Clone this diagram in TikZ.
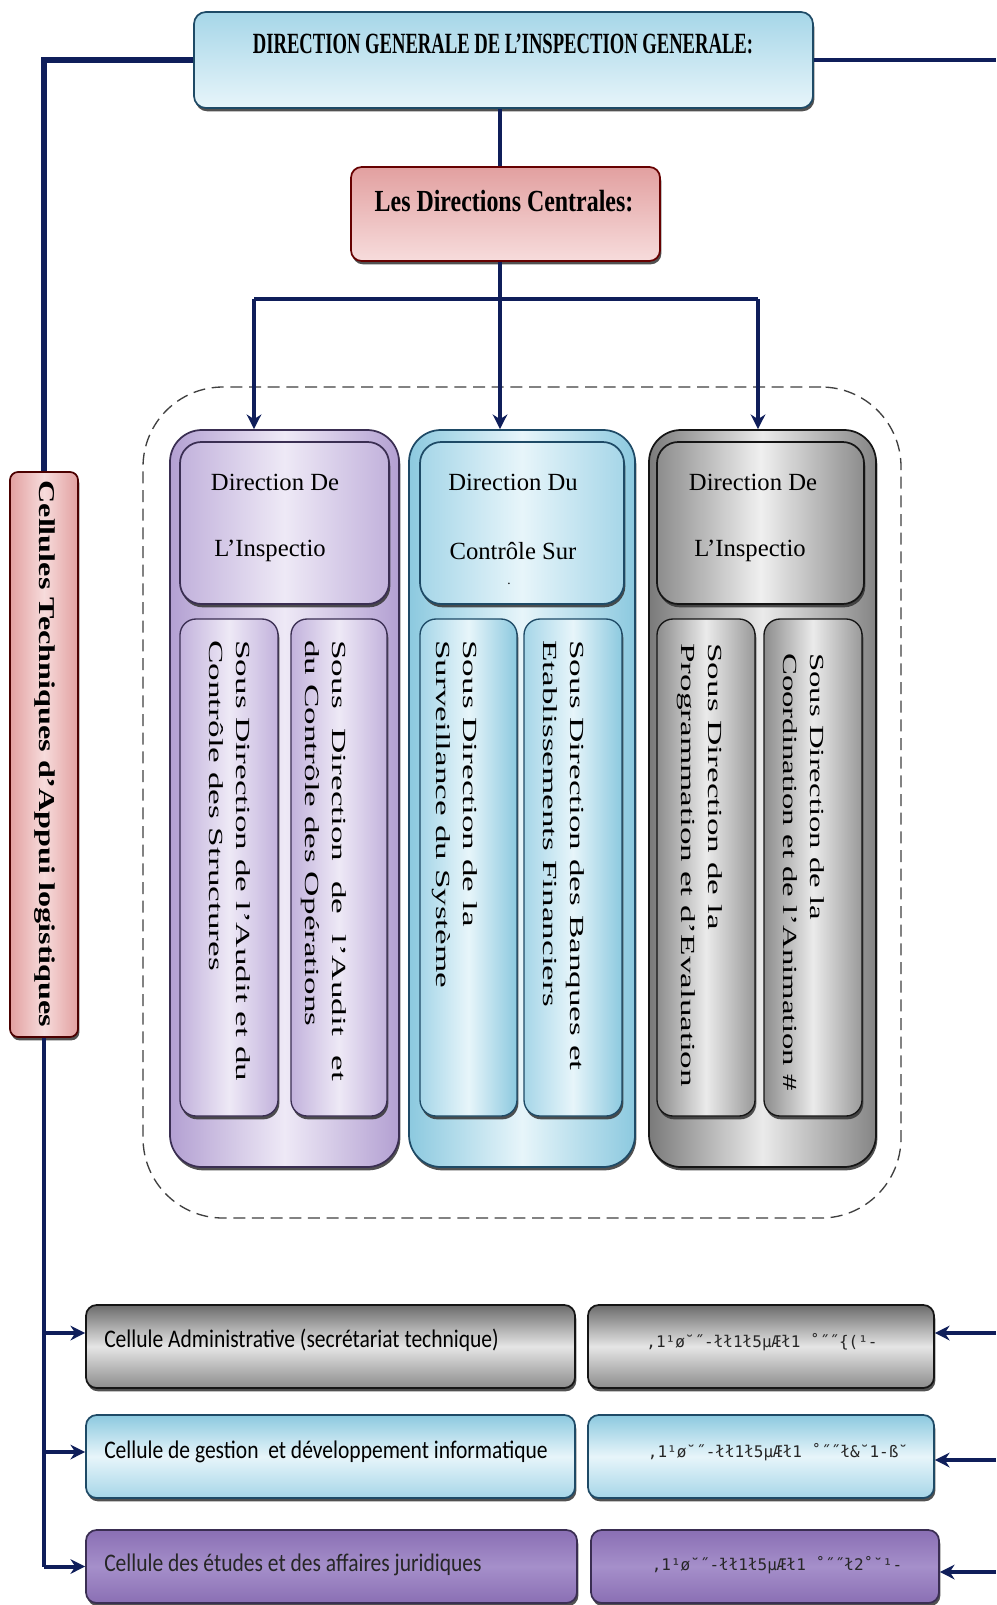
\documentclass[tikz,border=0pt]{standalone}
\usepackage{fontspec}
\setmainfont{Liberation Serif}
\newfontfamily\calib{Carlito}
\newfontfamily\monof{DejaVu Sans Mono}
\usetikzlibrary{arrows.meta,fit,shadows}
\definecolor{navy}{HTML}{0F1E5A}
\definecolor{pbord}{HTML}{3A2E52}
\definecolor{bbord}{HTML}{1E4A66}
\definecolor{gbord}{HTML}{151515}
\definecolor{lavA}{HTML}{B3A0D2}
\definecolor{lavB}{HTML}{EEE9F6}
\definecolor{lavC}{HTML}{C2B2DC}
\definecolor{bluA}{HTML}{8CC9DF}
\definecolor{bluB}{HTML}{E7F5FA}
\definecolor{bluC}{HTML}{A6D6E8}
\definecolor{pinkA}{HTML}{E2A0A0}
\definecolor{pinkB}{HTML}{F7DCDC}
\definecolor{vioA}{HTML}{8A6FB4}
\definecolor{vioB}{HTML}{A58FCA}
\begin{document}
\begin{tikzpicture}[x=0.75pt,y=-0.75pt,
  conn/.style={draw=navy, line width=3pt},
  arr/.style={draw=navy, line width=3pt, -{Stealth[length=11pt,width=11pt]}},
  base/.style={draw, line width=1.3pt, inner sep=0pt,
    drop shadow={shadow xshift=1pt, shadow yshift=-2.5pt, fill=black!80, opacity=0.85}},
  topbox/.style={base, draw=bbord, rounded corners=9pt, top color=bluC, bottom color=bluB},
  ldcbox/.style={base, draw=red!40!black, rounded corners=8pt, top color=pinkA, bottom color=pinkB},
  ctalbox/.style={base, draw=red!30!black, rounded corners=6pt, left color=pinkA, right color=pinkA, middle color=pinkB},
  pcol/.style={base, draw=pbord, rounded corners=24pt, left color=lavA, right color=lavA, middle color=lavB},
  phd/.style={base, draw=pbord, rounded corners=16pt, left color=lavC, right color=lavC, middle color=lavB},
  psub/.style={base, draw=pbord, line width=1pt, rounded corners=12pt, left color=lavC, right color=lavC, middle color=lavB},
  bcol/.style={base, draw=bbord, rounded corners=24pt, left color=bluA, right color=bluA, middle color=bluB},
  bhd/.style={base, draw=bbord, rounded corners=16pt, left color=bluC, right color=bluC, middle color=bluB},
  bsub/.style={base, draw=bbord, line width=1pt, rounded corners=12pt, left color=bluC, right color=bluA, middle color=bluB},
  gcol/.style={base, draw=gbord, rounded corners=24pt, left color=black!52, right color=black!48, middle color=black!8},
  ghd/.style={base, draw=gbord, rounded corners=16pt, left color=black!45, right color=black!45, middle color=black!6},
  gsub/.style={base, draw=gbord, line width=1pt, rounded corners=12pt, left color=black!45, right color=black!40, middle color=black!8},
  grayrow/.style={base, draw=gbord, rounded corners=8pt, top color=black!58, bottom color=black!45, middle color=black!10},
  bluerow/.style={base, draw=bbord, rounded corners=8pt, top color=bluA, bottom color=bluC, middle color=bluB},
  violetrow/.style={base, draw=pbord, rounded corners=8pt, top color=vioA, bottom color=vioA, middle color=vioB},
  grpbox/.style={draw=black!75, line width=1pt, dash pattern=on 9pt off 5pt, rounded corners=60pt, inner sep=0pt},
  hdtext/.style={font=\fontsize{18.5}{20}\selectfont, inner sep=0pt},
  subtext/.style={font=\fontsize{15}{20.25}\selectfont, inner sep=0pt, anchor=north west, rotate=-90},
  rowtext/.style={font=\calib\fontsize{19}{22}\selectfont, inner sep=0pt, anchor=west},
  gtext/.style={font=\monof\fontsize{12}{14}\selectfont, inner sep=0pt, text=black!85}
]
\fill[white] (0,0) rectangle (996,1605);
\path[use as bounding box] (0,0) rectangle (996,1605);

% group outline
\node[grpbox, fit={(143,387)(901,1218)}] (grp) {};

% top boxes
\node[topbox, fit={(194,12)(813,108)}] (dg) {};
\node[font=\bfseries\fontsize{22}{26}\selectfont, inner sep=0pt] (dgt) at (503,44)
  {\scalebox{0.635}[1]{DIRECTION GENERALE DE L'INSPECTION GENERALE:}};
\node[ldcbox, fit={(351,167)(660,261)}] (ldc) {};
\node[font=\bfseries\fontsize{23}{26}\selectfont, inner sep=0pt] (ldct) at (504,201)
  {\scalebox{0.78}[1]{Les Directions Centrales:}};

% column 1 (purple)
\node[pcol, fit={(170,430)(399,1167)}] (col1) {};
\node[phd, fit={(180,442)(389,604)}] (hd1) {};
\node[psub, fit={(180,619)(278,1116)}] (s1a) {};
\node[psub, fit={(291,619)(387,1116)}] (s1b) {};
\node[hdtext] (hd1a) at (275,482) {Direction De};
\node[hdtext] (hd1b) at (270,551) {L'Inspectio};
\node[subtext] (t1a) at (256,640) {\scalebox{1.76}[1]{\begin{tabular}{@{}l@{}}Sous Direction de l'Audit et du\\Contrôle des Structures\end{tabular}}};
\node[subtext] (t1b) at (352,640) {\scalebox{1.76}[1]{\begin{tabular}{@{}l@{}}\settowidth{\dimen0}{Sous Direction de l'Audit et du}\makebox[\dimen0][s]{Sous Direction de l'Audit et}\\du Contrôle des Opérations\end{tabular}}};

% column 2 (blue)
\node[bcol, fit={(409,430)(635,1167)}] (col2) {};
\node[bhd, fit={(420,442)(624,604)}] (hd2) {};
\node[bsub, fit={(420,619)(517,1116)}] (s2a) {};
\node[bsub, fit={(524,619)(622,1116)}] (s2b) {};
\node[hdtext] (hd2a) at (513,482) {Direction Du};
\node[hdtext] (hd2b) at (513,551) {Contrôle Sur};
\node[font=\fontsize{10}{12}\selectfont, inner sep=0pt] (hd2c) at (509,584) {.};
\node[subtext] (t2a) at (483,640) {\scalebox{1.76}[1]{\begin{tabular}{@{}l@{}}Sous Direction de la\\Surveillance du Système\end{tabular}}};
\node[subtext] (t2b) at (590,640) {\scalebox{1.76}[1]{\begin{tabular}{@{}l@{}}Sous Direction des Banques et\\Etablissements Financiers\end{tabular}}};

% column 3 (gray)
\node[gcol, fit={(649,430)(876,1167)}] (col3) {};
\node[ghd, fit={(657,442)(864,604)}] (hd3) {};
\node[gsub, fit={(657,619)(755,1116)}] (s3a) {};
\node[gsub, fit={(764,619)(862,1116)}] (s3b) {};
\node[hdtext] (hd3a) at (753,482) {Direction De};
\node[hdtext] (hd3b) at (750,551) {L'Inspectio};
\node[subtext] (t3a) at (728,643) {\scalebox{1.76}[1]{\begin{tabular}{@{}l@{}}Sous Direction de la\\Programmation et d'Evaluation\end{tabular}}};
\node[subtext] (t3b) at (830,653) {\scalebox{1.64}[1]{\begin{tabular}{@{}l@{}}Sous Direction de la\\Coordination et de l'Animation \#\end{tabular}}};

% left vertical box
\node[ctalbox, fit={(10,472)(78,1037)}] (ctal) {};
\node[font=\bfseries\fontsize{17}{20}\selectfont, inner sep=0pt, rotate=-90] (ctalt) at (45,754)
  {\scalebox{1.42}[1]{Cellules Techniques d'Appui logistiques}};

% bottom rows
\node[grayrow, fit={(86,1305)(575,1388)}] (r1l) {};
\node[grayrow, fit={(588,1305)(934,1388)}] (r1r) {};
\node[bluerow, fit={(86,1415)(575,1498)}] (r2l) {};
\node[bluerow, fit={(588,1415)(934,1498)}] (r2r) {};
\node[violetrow, fit={(86,1530)(577,1603)}] (r3l) {};
\node[violetrow, fit={(591,1530)(939,1603)}] (r3r) {};
\node[rowtext] (r1t) at (104,1340) {\scalebox{0.85}[1]{Cellule Administrative (secrétariat technique)}};
\node[rowtext] (r2t) at (104,1452) {\scalebox{0.85}[1]{Cellule de gestion\ \ et développement informatique}};
\node[rowtext, text=black!85] (r3t) at (104,1565) {\scalebox{0.85}[1]{Cellule des études et des affaires juridiques}};
\node[gtext] (r1rt) at (762,1342) {,1¹ø˘˝-łł1ł5µÆł1 ˚˝˝\{(¹-};
\node[gtext] (r2rt) at (778,1452) {,1¹ø˘˝-łł1ł5µÆł1 ˚˝˝ł\&˘1-ß˘};
\node[gtext] (r3rt) at (777,1565) {,1¹ø˘˝-łł1ł5µÆł1 ˚˝˝ł2˚˘¹-};

% free ends / junctions
\coordinate (rtop) at (996,60);
\coordinate (j1) at (254,299);
\coordinate (j2) at (500,299);
\coordinate (j3) at (758,299);
\coordinate (e1) at (996,1333);
\coordinate (e2) at (996,1460);
\coordinate (e3) at (996,1572);

% connectors
\draw[conn, line width=4.5pt] (dg.west) -| (ctal.north);
\draw[conn, line width=3.5pt] (dg.east) -- (rtop);
\draw[conn, line width=3.5pt] (dg.south -| j2) -- (ldc.north -| j2);
\draw[conn, line width=3.5pt] (ldc.south -| j2) -- (j2);
\draw[conn, line width=3.5pt] (j1) -- (j3);
\draw[arr] (j1) -- (j1 |- col1.north);
\draw[arr] (j2) -- (j2 |- col2.north);
\draw[arr] (j3) -- (j3 |- col3.north);
\draw[conn, line width=2.5pt] (ctal.south) -- (ctal.south |- r3l.west);
\draw[arr] (ctal.south |- 0,1333) -- (r1l.west |- 0,1333);
\draw[arr] (ctal.south |- r2t.west) -- (r2l.west |- r2t.west);
\draw[arr] (ctal.south |- r3l.west) -- (r3l.west);
\draw[arr] (e1) -- (r1r.east |- e1);
\draw[arr] (e2) -- (r2r.east |- e2);
\draw[arr] (e3) -- (r3r.east |- e3);
\end{tikzpicture}
\end{document}
